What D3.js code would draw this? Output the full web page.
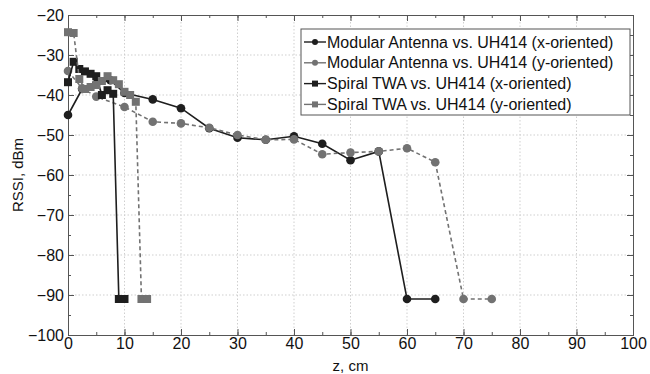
<!DOCTYPE html>
<html>
<head>
<meta charset="utf-8">
<script src="https://cdn.jsdelivr.net/npm/d3@7"></script>
<style>
  body { margin: 0; background: #fff; }
  text { font-family: "Liberation Sans", Arial, sans-serif; }
</style>
</head>
<body>
<svg width="650" height="374"></svg>
<script>
const margin = { top: 15, right: 17, bottom: 39, left: 68 };
const width = 650 - margin.left - margin.right;
const height = 374 - margin.top - margin.bottom;

// data
const modXz = [0, 2.5, 5, 7.5, 10, 15, 20, 25, 30, 35, 40, 45, 50, 55, 60, 65];
const modXrssi = [-45, -38.5, -37.2, -36.3, -39.5, -41.1, -43.3, -48.3, -50.7, -51.2, -50.3, -52.2, -56.3, -54.1, -91, -91];

const modYz = [0, 2.5, 5, 10, 15, 20, 25, 30, 35, 40, 45, 50, 55, 60, 65, 70, 75];
const modYrssi = [-34, -38.3, -40.4, -43, -46.7, -47.1, -48.2, -50, -51.2, -51.1, -54.8, -54.4, -54.1, -53.3, -56.8, -91, -91];

const spXz = [0, 1, 2, 3, 4, 5, 6, 7, 8, 9, 10];
const spXrssi = [-36.8, -31.7, -33.5, -34.1, -34.7, -35.3, -40, -38.8, -39.7, -91, -91];

const spYz = [0, 1, 2, 3, 4, 5, 6, 7, 8, 9, 10, 11, 12, 13, 14];
const spYrssi = [-24.3, -24.5, -36, -38.5, -38, -37.5, -36.5, -35.3, -36.3, -37.3, -39.2, -40, -41.7, -91, -91];

const legendLabels = [
  'Modular Antenna vs. UH414 (x-oriented)',
  'Modular Antenna vs. UH414 (y-oriented)',
  'Spiral TWA vs. UH414 (x-oriented)',
  'Spiral TWA vs. UH414 (y-oriented)'
];

const xTicks = [0, 10, 20, 30, 40, 50, 60, 70, 80, 90, 100];
const yTicks = [-20, -30, -40, -50, -60, -70, -80, -90, -100];

const series = [
  { z: modXz, r: modXrssi, color: '#1e1e1e', dash: null, shape: 'circle' },
  { z: modYz, r: modYrssi, color: '#727272', dash: '4,3', shape: 'circle' },
  { z: spXz, r: spXrssi, color: '#1e1e1e', dash: null, shape: 'square' },
  { z: spYz, r: spYrssi, color: '#727272', dash: '4,3', shape: 'square' }
];

const svg = d3.select('svg');
const chart = svg.append('g')
  .attr('transform', `translate(${margin.left}, ${margin.top})`);

const xScale = d3.scaleLinear().domain([0, 100]).range([0, width]);
const yScale = d3.scaleLinear().domain([-100, -20]).range([height, 0]);

// grid
chart.append('g')
  .selectAll('line')
  .data(xTicks.slice(1, -1))
  .join('line')
  .attr('x1', d => xScale(d)).attr('x2', d => xScale(d))
  .attr('y1', 0).attr('y2', height)
  .attr('stroke', '#cfcfcf').attr('stroke-dasharray', '1.5,2');

chart.append('g')
  .selectAll('line')
  .data(yTicks.slice(1, -1))
  .join('line')
  .attr('y1', d => yScale(d)).attr('y2', d => yScale(d))
  .attr('x1', 0).attr('x2', width)
  .attr('stroke', '#cfcfcf').attr('stroke-dasharray', '1.5,2');

// axes, ticks inside
const minorX = d3.range(0, 101, 5);
const minorY = d3.range(-100, -19, 5);

const axB = chart.append('g').attr('transform', `translate(0, ${height})`)
  .call(d3.axisBottom(xScale).tickValues(xTicks).tickSize(-6).tickPadding(4).tickFormat(d3.format('d')));
chart.append('g').attr('transform', `translate(0, ${height})`)
  .call(d3.axisBottom(xScale).tickValues(minorX).tickSize(-3).tickFormat(''));
chart.append('g')
  .call(d3.axisTop(xScale).tickValues(minorX).tickSize(-3).tickFormat(''));
chart.append('g')
  .call(d3.axisTop(xScale).tickValues(xTicks).tickSize(-6).tickFormat(''));

const axL = chart.append('g')
  .call(d3.axisLeft(yScale).tickValues(yTicks).tickSize(-6).tickPadding(4).tickFormat(d3.format('d')));
chart.append('g')
  .call(d3.axisLeft(yScale).tickValues(minorY).tickSize(-3).tickFormat(''));
chart.append('g').attr('transform', `translate(${width}, 0)`)
  .call(d3.axisRight(yScale).tickValues(minorY).tickSize(-3).tickFormat(''));
chart.append('g').attr('transform', `translate(${width}, 0)`)
  .call(d3.axisRight(yScale).tickValues(yTicks).tickSize(-6).tickFormat(''));

chart.selectAll('.domain').attr('stroke', '#555');
chart.selectAll('.tick line').attr('stroke', '#555');
chart.selectAll('.tick text').attr('font-size', 16).attr('fill', '#111')
  .attr('font-family', '"Liberation Sans", Arial, sans-serif');
axB.selectAll('.tick text').attr('dy', '0.6em');

// labels
svg.append('text')
  .attr('x', -(margin.top + height / 2))
  .attr('y', 23)
  .attr('transform', 'rotate(-90)')
  .attr('text-anchor', 'middle')
  .attr('font-size', 15)
  .attr('fill', '#111')
  .text('RSSI, dBm');

svg.append('text')
  .attr('x', margin.left + width / 2)
  .attr('y', 371)
  .attr('text-anchor', 'middle')
  .attr('font-size', 15)
  .attr('fill', '#111')
  .text('z, cm');

// lines and markers
const line = d3.line().x(d => xScale(d[0])).y(d => yScale(d[1]));

series.forEach(s => {
  const pts = s.z.map((z, i) => [z, s.r[i]]);
  chart.append('path')
    .datum(pts)
    .attr('d', line)
    .attr('fill', 'none')
    .attr('stroke', s.color)
    .attr('stroke-width', 1.6)
    .attr('stroke-dasharray', s.dash);
  if (s.shape === 'circle') {
    chart.append('g').selectAll('circle')
      .data(pts).join('circle')
      .attr('cx', d => xScale(d[0])).attr('cy', d => yScale(d[1]))
      .attr('r', 4.3).attr('fill', s.color);
  } else {
    chart.append('g').selectAll('rect')
      .data(pts).join('rect')
      .attr('x', d => xScale(d[0]) - 4).attr('y', d => yScale(d[1]) - 4)
      .attr('width', 8).attr('height', 8).attr('fill', s.color);
  }
});

// legend
const legend = svg.append('g');
legend.append('rect')
  .attr('x', 301).attr('y', 29).attr('width', 329).attr('height', 86)
  .attr('fill', '#fff').attr('stroke', '#555').attr('stroke-width', 1);

series.forEach((s, i) => {
  const ly = 42 + i * 20.8;
  legend.append('line')
    .attr('x1', 304).attr('x2', 326).attr('y1', ly).attr('y2', ly)
    .attr('stroke', s.color).attr('stroke-width', 1.4);
  if (s.shape === 'circle') {
    legend.append('circle').attr('cx', 315).attr('cy', ly).attr('r', 3).attr('fill', s.color);
  } else {
    legend.append('rect').attr('x', 312).attr('y', ly - 3).attr('width', 6).attr('height', 6).attr('fill', s.color);
  }
  legend.append('text')
    .attr('x', 327).attr('y', ly).attr('dy', '0.35em')
    .attr('font-size', 16).attr('fill', '#111')
    .text(legendLabels[i]);
});
</script>
</body>
</html>
